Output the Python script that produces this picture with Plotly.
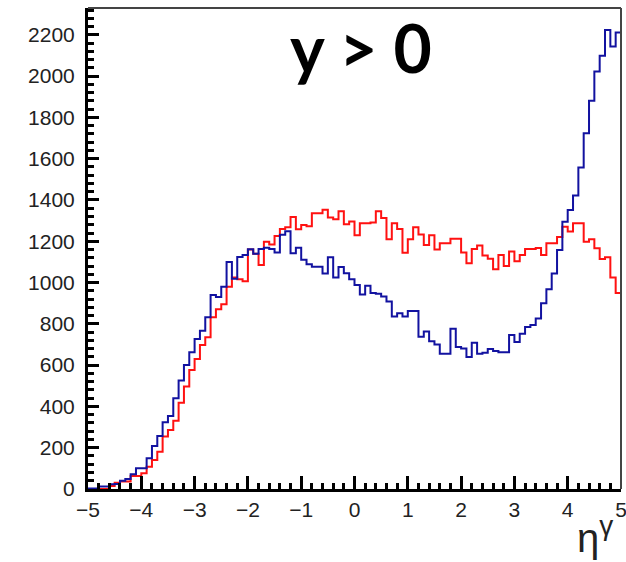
import plotly.graph_objects as go

# Histogram binning: 100 bins from -5 to 5
bin_edges = [round(-5 + 0.1 * i, 1) for i in range(101)]

# Blue histogram (bin contents, left to right)
blue_counts = [
    3, 3, 12, 12, 23, 24, 40, 48, 71, 100,
    100, 149, 208, 257, 323, 354, 439, 526, 601, 662,
    727, 767, 832, 940, 930, 980, 1100, 1018, 1124, 1134,
    1161, 1140, 1163, 1169, 1163, 1146, 1232, 1248, 1142, 1169,
    1111, 1089, 1076, 1076, 1044, 1123, 1025, 1075, 1045, 1016,
    988, 942, 985, 950, 946, 932, 908, 835, 851, 835,
    862, 862, 737, 763, 716, 700, 655, 655, 776, 688,
    680, 640, 709, 655, 660, 678, 668, 662, 662, 746,
    712, 752, 785, 795, 826, 900, 968, 1044, 1158, 1295,
    1352, 1422, 1557, 1723, 1881, 2022, 2099, 2224, 2143, 2211,
]

# Red histogram (bin contents, left to right)
red_counts = [
    0, 0, 0, 0, 14, 30, 36, 36, 63, 63,
    76, 108, 141, 181, 254, 286, 331, 418, 496, 577,
    630, 698, 735, 832, 871, 895, 980, 1024, 1016, 1006,
    1160, 1140, 1085, 1198, 1184, 1225, 1260, 1268, 1317, 1258,
    1279, 1273, 1336, 1336, 1353, 1315, 1307, 1345, 1283, 1296,
    1229, 1287, 1287, 1291, 1345, 1313, 1210, 1287, 1259, 1144,
    1210, 1268, 1233, 1182, 1229, 1160, 1190, 1190, 1212, 1212,
    1146, 1094, 1163, 1180, 1131, 1115, 1065, 1134, 1080, 1151,
    1103, 1134, 1162, 1162, 1168, 1133, 1191, 1191, 1221, 1270,
    1247, 1287, 1287, 1198, 1210, 1166, 1114, 1123, 1024, 950,
]

x_ticks = [-5, -4, -3, -2, -1, 0, 1, 2, 3, 4, 5]
x_tick_labels = ["−5", "−4", "−3", "−2", "−1", "0", "1", "2", "3", "4", "5"]
y_ticks = [0, 200, 400, 600, 800, 1000, 1200, 1400, 1600, 1800, 2000, 2200]

title_text = "<b>y > 0</b>"
x_title = "η<sup>γ</sup>"

fig = go.Figure()
fig.add_trace(go.Scatter(
    x=bin_edges, y=red_counts + [red_counts[-1]],
    mode="lines", line=dict(shape="hv", color="#ff1111", width=2),
    showlegend=False, hoverinfo="skip"))
fig.add_trace(go.Scatter(
    x=bin_edges, y=blue_counts + [blue_counts[-1]],
    mode="lines", line=dict(shape="hv", color="#1212a0", width=2),
    showlegend=False, hoverinfo="skip"))

tickfont = dict(family="Liberation Sans, Arial, sans-serif", size=21, color="#222222")

fig.update_layout(
    width=626, height=562,
    margin=dict(l=88, r=5, t=8, b=73, pad=0, autoexpand=False),
    paper_bgcolor="white", plot_bgcolor="white",
    xaxis=dict(
        range=[-5, 5], tickmode="array", tickvals=x_ticks, ticktext=x_tick_labels,
        showline=True, linewidth=3, linecolor="black",
        ticks="inside", ticklen=13, tickwidth=3, tickcolor="black",
        minor=dict(ticks="inside", ticklen=6, tickwidth=3, tickcolor="black", dtick=0.2, tick0=-5, showgrid=False),
        showgrid=False, zeroline=False, tickfont=tickfont, ticklabelstandoff=0,
        ticklabeloverflow="allow", automargin=False,
    ),
    yaxis=dict(
        range=[0, 2330], tickmode="array", tickvals=y_ticks,
        showline=True, linewidth=3, linecolor="black",
        ticks="inside", ticklen=11, tickwidth=3, tickcolor="black",
        minor=dict(ticks="inside", ticklen=6, tickwidth=3, tickcolor="black", dtick=40, tick0=0, showgrid=False),
        showgrid=False, zeroline=False, tickfont=tickfont, ticklabelstandoff=6,
        ticklabeloverflow="allow", automargin=False,
    ),
    shapes=[
        dict(type="line", xref="x domain", yref="y domain", x0=0, x1=1, y0=1, y1=1,
             line=dict(color="#444444", width=2)),
        dict(type="line", xref="x domain", yref="y domain", x0=1, x1=1, y0=0, y1=1,
             line=dict(color="#444444", width=2)),
    ],
    annotations=[
        dict(text=title_text, xref="paper", yref="paper", x=0.512, y=0.917,
             xanchor="center", yanchor="middle", showarrow=False,
             font=dict(family="Lato, Liberation Sans, sans-serif", size=66, color="black")),
        dict(text=x_title, xref="paper", yref="paper", x=0.988, y=-0.152,
             xanchor="right", yanchor="bottom", showarrow=False,
             font=dict(family="Liberation Sans, Arial, sans-serif", size=40, color="#222222")),
    ],
)

fig.write_html("out.html")
